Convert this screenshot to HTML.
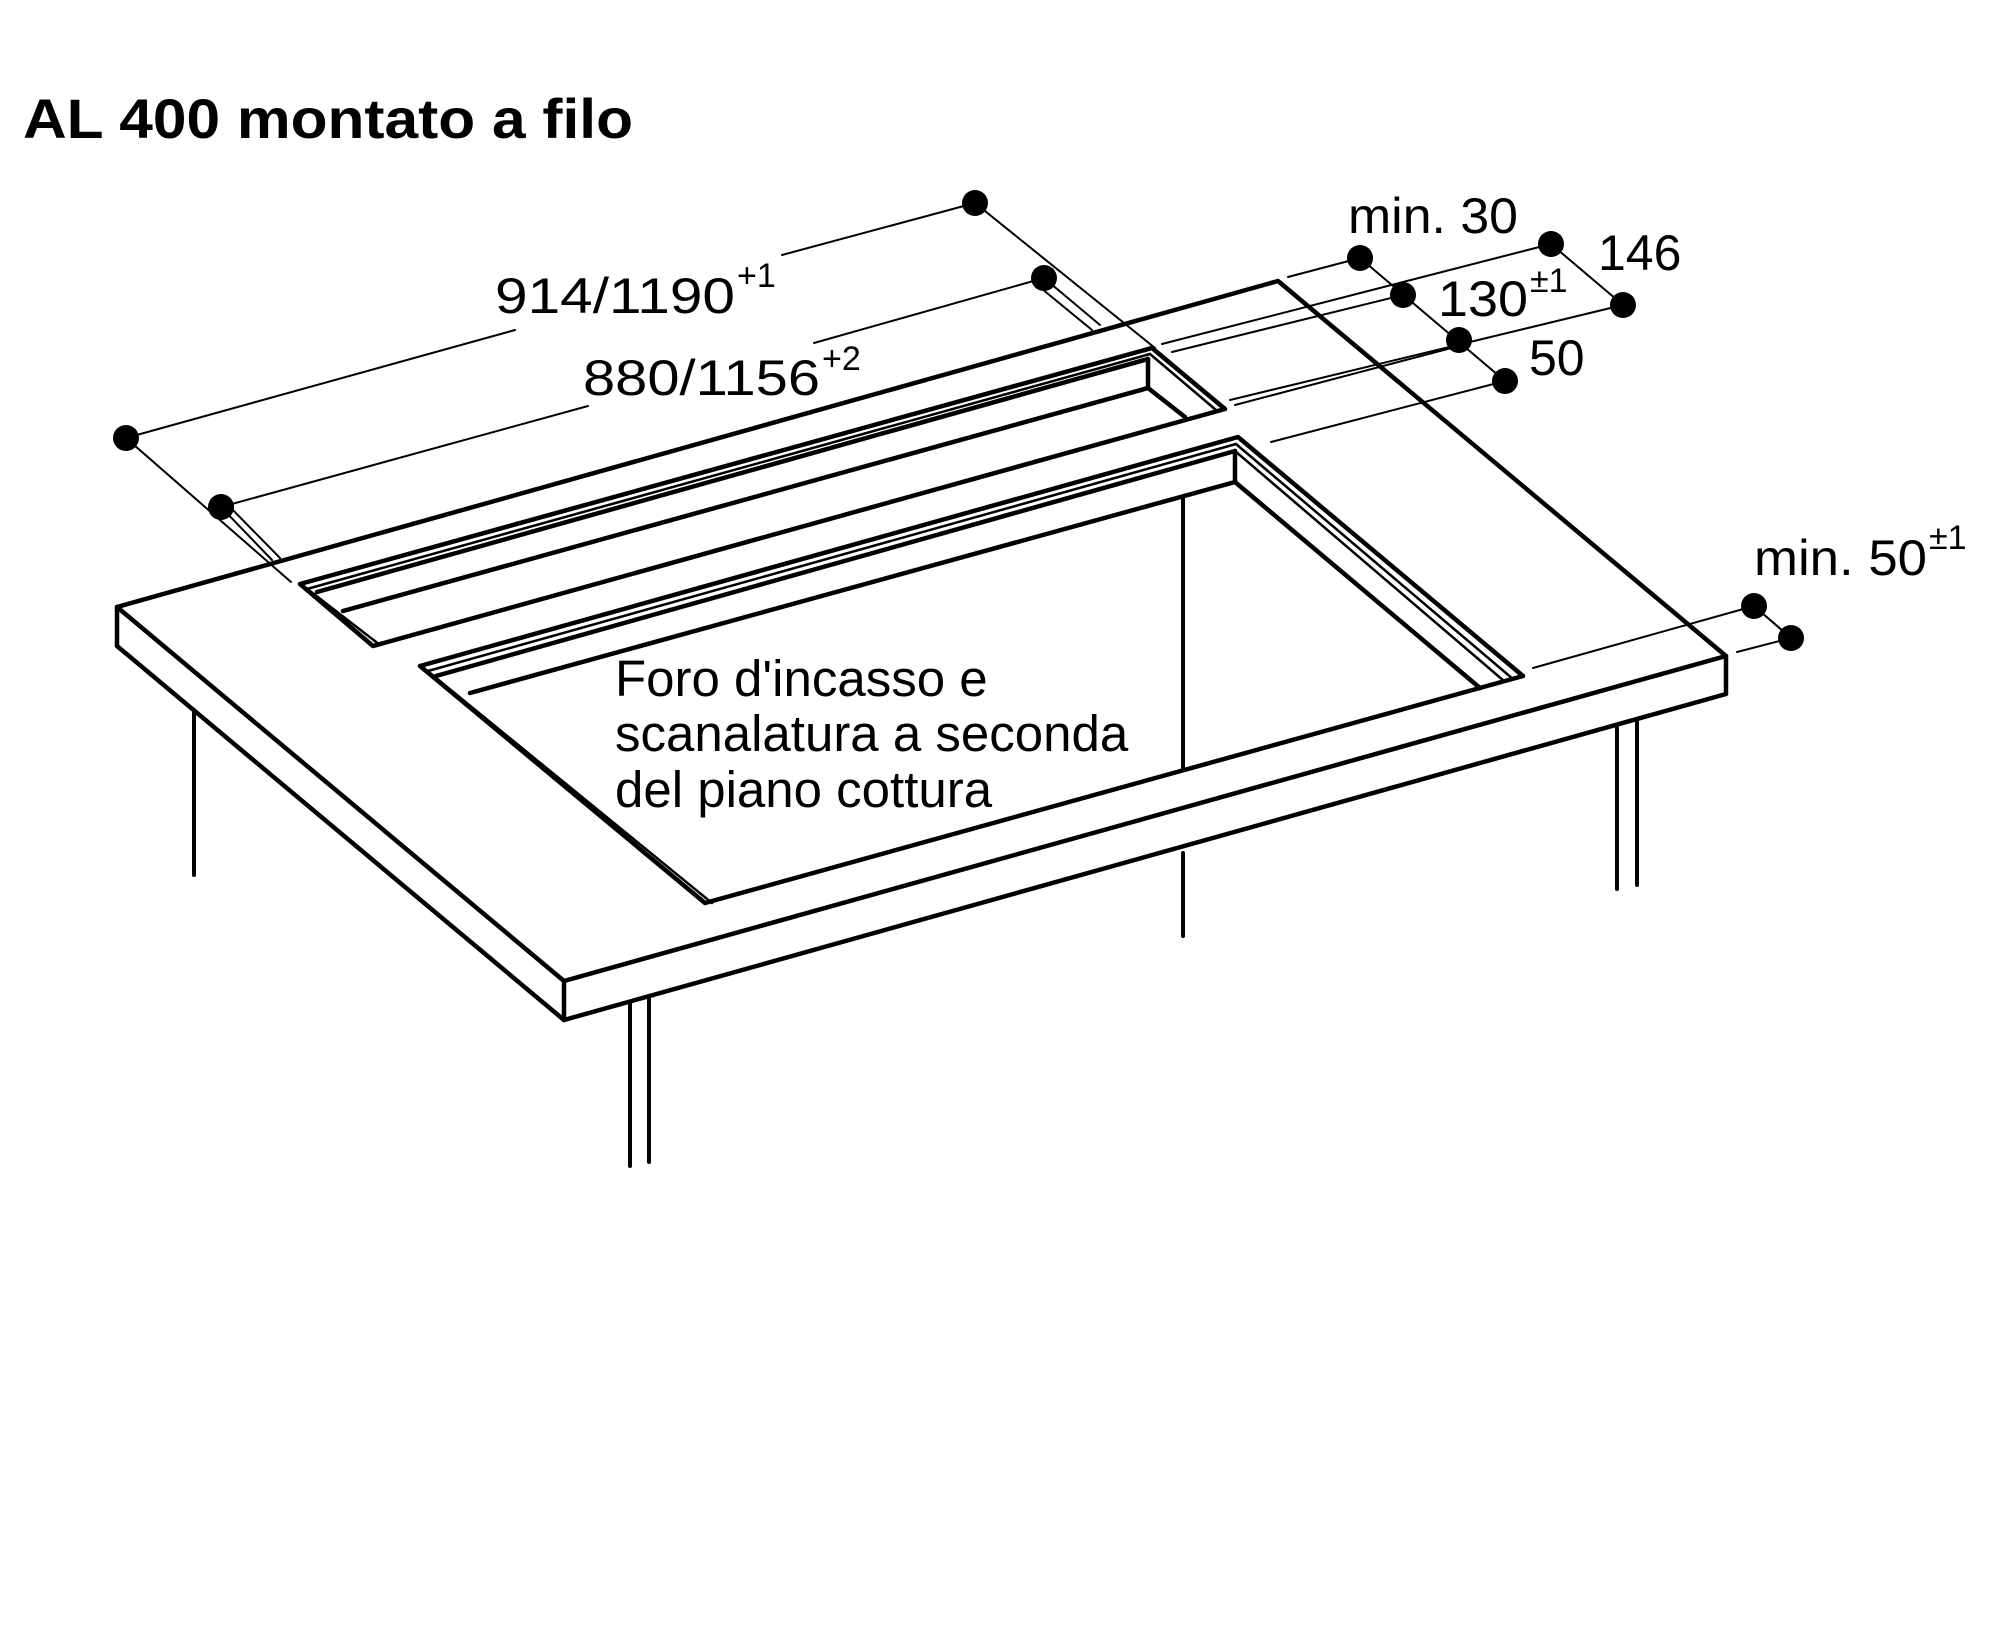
<!DOCTYPE html>
<html><head><meta charset="utf-8"><style>html,body{margin:0;padding:0;background:#fff}svg{display:block}</style></head>
<body>
<svg width="2000" height="1634" viewBox="0 0 2000 1634" xmlns="http://www.w3.org/2000/svg" font-family="'Liberation Sans', sans-serif">
<rect width="2000" height="1634" fill="#fff"/>
<text x="23" y="138" font-size="56" font-weight="bold" textLength="610" lengthAdjust="spacingAndGlyphs">AL 400 montato a filo</text>

<g stroke="#000" fill="none" stroke-linecap="round" stroke-linejoin="round">
<g stroke-width="4.5">
<polyline points="564,981 117,607 1278,281 1726,656 564,981"/>
<polyline points="117,607 117,646 564,1020 1726,694 1726,656"/>
<line x1="564" y1="981" x2="564" y2="1020"/>
</g>
<g stroke-width="4">
<line x1="194" y1="710" x2="194" y2="875"/>
<line x1="630" y1="1004" x2="630" y2="1166"/>
<line x1="649" y1="999" x2="649" y2="1162"/>
<line x1="1617" y1="728" x2="1617" y2="889"/>
<line x1="1637" y1="722" x2="1637" y2="885"/>
<line x1="1183" y1="497" x2="1183" y2="767"/>
<line x1="1183" y1="853" x2="1183" y2="936"/>
</g>
<g stroke-width="4.5">
<polyline points="300,584 1152,348 1225,409 373,646 300,584"/>
<line x1="317" y1="592" x2="1148" y2="359"/>
<line x1="343" y1="611" x2="1148" y2="388"/>
<line x1="1148" y1="359" x2="1148" y2="388"/>
<line x1="1148" y1="388" x2="1185" y2="417"/>
</g>
<g stroke-width="2.5">
<line x1="307" y1="589" x2="1150" y2="354"/>
<line x1="310" y1="591" x2="380" y2="645"/>
<line x1="1150" y1="354" x2="1216" y2="410"/>
</g>
<g stroke-width="4.5">
<polyline points="420,666 1238,437 1523,676 705,903 420,666"/>
<line x1="436" y1="676" x2="1235" y2="451"/>
<line x1="470" y1="693" x2="1235" y2="482"/>
<line x1="1235" y1="451" x2="1235" y2="482"/>
<line x1="1235" y1="482" x2="1480" y2="688"/>
</g>
<g stroke-width="2.5">
<line x1="428" y1="671" x2="1236" y2="444"/>
<line x1="430" y1="673" x2="712" y2="903"/>
<line x1="1236" y1="444" x2="1513" y2="679"/>
<line x1="1235" y1="451" x2="1504" y2="681"/>
</g>

<g stroke-width="2">
<line x1="126" y1="438" x2="515" y2="330"/>
<line x1="782" y1="255" x2="975" y2="203"/>
<line x1="221" y1="507" x2="588" y2="406"/>
<line x1="814" y1="343" x2="1044" y2="278"/>
<line x1="975" y1="203" x2="1155" y2="348"/>
<line x1="1044" y1="278" x2="1100" y2="325"/>
<line x1="1036" y1="284" x2="1092" y2="330"/>
<line x1="126" y1="438" x2="291" y2="582"/>
<line x1="221" y1="507" x2="272" y2="560"/>
<line x1="228" y1="505" x2="280" y2="558"/>

<line x1="1288" y1="277" x2="1360" y2="258"/>
<line x1="1162" y1="344" x2="1551" y2="244"/>
<line x1="1172" y1="352" x2="1403" y2="295"/>
<line x1="1230" y1="400" x2="1623" y2="305"/>
<line x1="1235" y1="405" x2="1459" y2="346"/>
<line x1="1271" y1="442" x2="1505" y2="381"/>
<line x1="1360" y1="258" x2="1505" y2="381"/>
<line x1="1551" y1="244" x2="1623" y2="305"/>

<line x1="1533" y1="668" x2="1754" y2="606"/>
<line x1="1737" y1="652" x2="1791" y2="638"/>
<line x1="1754" y1="606" x2="1791" y2="638"/>
</g>
</g>

<g fill="#000">
<circle cx="126" cy="438" r="13"/>
<circle cx="975" cy="203" r="13"/>
<circle cx="221" cy="507" r="13"/>
<circle cx="1044" cy="278" r="13"/>
<circle cx="1360" cy="258" r="13"/>
<circle cx="1551" cy="244" r="13"/>
<circle cx="1403" cy="295" r="13"/>
<circle cx="1623" cy="305" r="13"/>
<circle cx="1459" cy="340" r="13"/>
<circle cx="1505" cy="381" r="13"/>
<circle cx="1754" cy="606" r="13"/>
<circle cx="1791" cy="638" r="13"/>
</g>

<g fill="#000" font-size="50">
<text x="495" y="313" textLength="240" lengthAdjust="spacingAndGlyphs">914/1190</text>
<text x="737" y="287" font-size="34">+1</text>
<text x="583" y="395" textLength="237" lengthAdjust="spacingAndGlyphs">880/1156</text>
<text x="822" y="370" font-size="34">+2</text>
<text x="1348" y="233" textLength="170" lengthAdjust="spacingAndGlyphs">min. 30</text>
<text x="1598" y="270">146</text>
<text x="1438" y="316" textLength="90" lengthAdjust="spacingAndGlyphs">130</text>
<text x="1530" y="292" font-size="34">±1</text>
<text x="1529" y="375">50</text>
<text x="1754" y="575" textLength="173" lengthAdjust="spacingAndGlyphs">min. 50</text>
<text x="1929" y="549" font-size="34">±1</text>
<text x="615" y="696" font-size="51">Foro d'incasso e</text>
<text x="615" y="751" font-size="51">scanalatura a seconda</text>
<text x="615" y="807" font-size="51">del piano cottura</text>
</g>
</svg>
</body></html>
